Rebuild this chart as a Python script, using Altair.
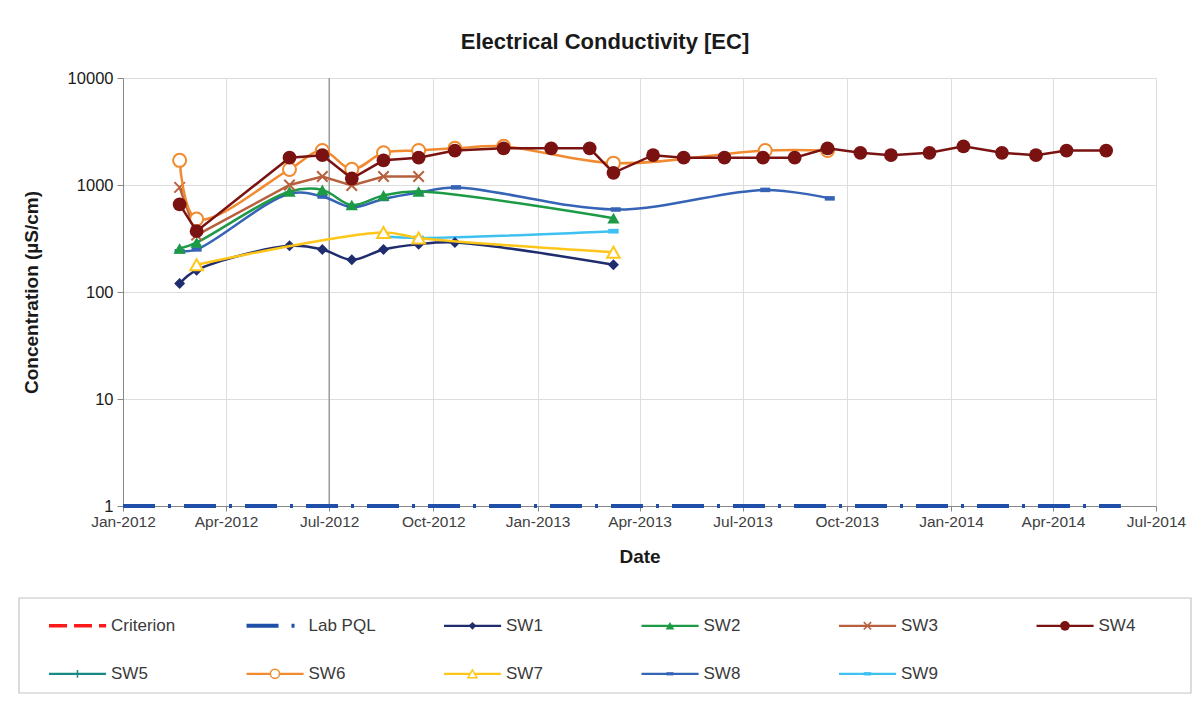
import altair as alt
import pandas as pd

# ---------------- data ----------------
SW1_DATES = ["2012-02-20", "2012-03-06", "2012-05-27", "2012-06-25", "2012-07-21",
             "2012-08-18", "2012-09-18", "2012-10-20", "2013-03-09"]
SW1_VALUES = [120, 160, 270, 250, 200, 250, 280, 290, 180]

SW2_DATES = ["2012-02-20", "2012-03-06", "2012-05-27", "2012-06-25", "2012-07-21",
             "2012-08-18", "2012-09-18", "2013-03-09"]
SW2_VALUES = [255, 290, 870, 900, 650, 800, 870, 490]

SW3_DATES = ["2012-02-20", "2012-03-06", "2012-05-27", "2012-06-25", "2012-07-21",
             "2012-08-18", "2012-09-18"]
SW3_VALUES = [950, 340, 1000, 1200, 990, 1200, 1200]

SW4_DATES = ["2012-02-20", "2012-03-06", "2012-05-27", "2012-06-25", "2012-07-21",
             "2012-08-18", "2012-09-18", "2012-10-20", "2012-12-02", "2013-01-13",
             "2013-02-16", "2013-03-09", "2013-04-13", "2013-05-10", "2013-06-15",
             "2013-07-19", "2013-08-16", "2013-09-14", "2013-10-13", "2013-11-09",
             "2013-12-13", "2014-01-12", "2014-02-15", "2014-03-17", "2014-04-13",
             "2014-05-18"]
SW4_VALUES = [660, 370, 1800, 1900, 1150, 1700, 1800, 2100, 2200, 2200,
              2200, 1300, 1900, 1800, 1800, 1800, 1800, 2200, 2000, 1900,
              2000, 2300, 2000, 1900, 2100, 2100]

SW5_DATES = []
SW5_VALUES = []

SW6_DATES = ["2012-02-20", "2012-03-06", "2012-05-27", "2012-06-25", "2012-07-21",
             "2012-08-18", "2012-09-18", "2012-10-20", "2012-12-02", "2013-03-09",
             "2013-07-21", "2013-09-14"]
SW6_VALUES = [1700, 480, 1400, 2100, 1400, 2000, 2100, 2200, 2300, 1600, 2100, 2100]

SW7_DATES = ["2012-03-06", "2012-08-18", "2012-09-18", "2013-03-09"]
SW7_VALUES = [180, 360, 320, 235]

SW8_DATES = ["2012-02-20", "2012-03-06", "2012-05-27", "2012-06-25", "2012-07-21",
             "2012-08-18", "2012-09-18", "2012-10-21", "2013-03-11", "2013-07-21",
             "2013-09-16"]
SW8_VALUES = [240, 250, 830, 780, 620, 740, 850, 950, 590, 900, 750]

SW9_DATES = ["2012-08-18", "2012-09-18", "2013-03-09"]
SW9_VALUES = [330, 320, 370]

PQL_DATES = ["2012-01-01", "2014-05-31"]
PQL_VALUES = [1, 1]

JUL_LINE_DATES = ["2012-07-01"]

Y_TICKS = [1, 10, 100, 1000, 10000]
LEGEND_NAMES = ["Criterion", "Lab PQL", "SW1", "SW2", "SW3", "SW4",
                "SW5", "SW6", "SW7", "SW8", "SW9"]

# ---------------- styles ----------------
X_PATH = "M-1,-1L1,1M-1,1L1,-1"
PLUS_PATH = "M0,-1V1M-0.6,0H0.6"
DASH_PATH = "M-1,-0.45H1V0.45H-1Z"

STYLE = {
    "Criterion": dict(color="#ff1a1a", dash=[18, 7], width=3.5, shape=None),
    "Lab PQL": dict(color="#1f4fa8", dash=[32, 13, 3, 13], width=4, shape=None),
    "SW1": dict(color="#1f2d6e", shape="diamond", size=120, filled=True, interp="catmull-rom"),
    "SW2": dict(color="#1c9a45", shape="triangle-up", size=150, filled=True, interp="catmull-rom"),
    "SW3": dict(color="#b8603e", shape=X_PATH, size=110, filled=False, interp="linear"),
    "SW4": dict(color="#7a1212", shape="circle", size=190, filled=True, interp="linear"),
    "SW5": dict(color="#178a84", shape=PLUS_PATH, size=120, filled=False, interp="linear"),
    "SW6": dict(color="#f28a30", shape="circle", size=170, filled="open", interp="catmull-rom"),
    "SW7": dict(color="#ffc61a", shape="triangle-up", size=160, filled="open", interp="catmull-rom"),
    "SW8": dict(color="#3563b5", shape=DASH_PATH, size=100, filled=True, interp="catmull-rom"),
    "SW9": dict(color="#3ec1f0", shape=DASH_PATH, size=110, filled=True, interp="catmull-rom"),
}

SERIES = {
    "SW1": (SW1_DATES, SW1_VALUES), "SW2": (SW2_DATES, SW2_VALUES),
    "SW3": (SW3_DATES, SW3_VALUES), "SW4": (SW4_DATES, SW4_VALUES),
    "SW5": (SW5_DATES, SW5_VALUES), "SW6": (SW6_DATES, SW6_VALUES),
    "SW7": (SW7_DATES, SW7_VALUES), "SW8": (SW8_DATES, SW8_VALUES),
    "SW9": (SW9_DATES, SW9_VALUES),
}

FONT = "Liberation Sans"
PLOT_W, PLOT_H = 1033, 428

x_ticks = []
for yr in (2012, 2013, 2014):
    for mo in (1, 4, 7, 10):
        if yr == 2014 and mo > 7:
            continue
        x_ticks.append(alt.DateTime(year=yr, month=mo, date=1))

X_ENC = alt.X(
    "date:T",
    scale=alt.Scale(domain=[alt.DateTime(year=2012, month=1, date=1),
                            alt.DateTime(year=2014, month=7, date=1)]),
    axis=alt.Axis(values=x_ticks, format="%b-%Y", title="Date",
                  labelFontSize=15.5, labelColor="#404040", labelPadding=3,
                  titleFontSize=19, titleFontWeight="bold", titleColor="#1a1a1a",
                  titlePadding=18, tickSize=5, labelFlush=False),
)
Y_ENC = alt.Y(
    "value:Q",
    scale=alt.Scale(type="log", domain=[1, 10000]),
    axis=alt.Axis(values=Y_TICKS, format="d", title="Concentration (µS/cm)",
                  labelFontSize=16.5, labelColor="#1a1a1a", labelPadding=4,
                  titleFontSize=19, titleFontWeight="bold", titleColor="#1a1a1a",
                  titlePadding=26, tickSize=6),
)


def frame(dates, values, name):
    return pd.DataFrame({"date": pd.to_datetime(dates), "value": values, "series": name})


layers = []

# darker vertical line at Jul-2012
jul = pd.DataFrame({"date": pd.to_datetime(JUL_LINE_DATES)})
layers.append(alt.Chart(jul).mark_rule(color="#8a8a8a", strokeWidth=1.2).encode(
    x=alt.X("date:T")))

# Lab PQL
pql = frame(PQL_DATES, PQL_VALUES, "Lab PQL")
s = STYLE["Lab PQL"]
layers.append(alt.Chart(pql).mark_line(color=s["color"], strokeWidth=s["width"],
                                       strokeDash=s["dash"]).encode(x=X_ENC, y=Y_ENC))

for name in ["SW8", "SW9", "SW1", "SW7", "SW2", "SW3", "SW6", "SW4", "SW5"]:
    dates, vals = SERIES[name]
    if not dates:
        continue
    st = STYLE[name]
    df = frame(dates, vals, name)
    base = alt.Chart(df)
    layers.append(base.mark_line(color=st["color"], strokeWidth=2.5,
                                 interpolate=st["interp"]).encode(x=X_ENC, y=Y_ENC))
    if st["filled"] == "open":
        pm = base.mark_point(shape=st["shape"], size=st["size"], filled=True,
                             fill="white", stroke=st["color"], strokeWidth=2, opacity=1)
    elif st["filled"]:
        pm = base.mark_point(shape=st["shape"], size=st["size"], filled=True,
                             color=st["color"], opacity=1)
    else:
        pm = base.mark_point(shape=st["shape"], size=st["size"], filled=False,
                             color=st["color"], strokeWidth=2, opacity=1)
    layers.append(pm.encode(x=X_ENC, y=Y_ENC))

plot = alt.layer(*layers).properties(width=PLOT_W, height=PLOT_H)

# ---------------- custom legend (boxed, 6 columns x 2 rows) ----------------
COL_PX = 197.5          # column pitch in pixels
BOX_LEFT_PX = 104       # legend box starts this far left of the plot area
BOX_COLS = 5.934        # legend box width in column units
LEG_H = 95

leg_rows = []
for i, name in enumerate(LEGEND_NAMES):
    leg_rows.append({"name": name, "col": i % 6, "row": i // 6})
leg = pd.DataFrame(leg_rows)

d0 = BOX_LEFT_PX / COL_PX
LX = alt.Scale(domain=[d0, d0 + PLOT_W / COL_PX])
LY = alt.Scale(domain=[-0.58, 1.40], reverse=True)

leg_layers = []
box = pd.DataFrame({"x0": [0.0], "x1": [BOX_COLS], "y0": [-0.58], "y1": [1.40]})
leg_layers.append(alt.Chart(box).mark_rect(filled=False, stroke="#c4c4c4",
                                            strokeWidth=1.2).encode(
    x=alt.X("x0:Q", scale=LX, axis=None), x2="x1:Q",
    y=alt.Y("y0:Q", scale=LY, axis=None), y2="y1:Q"))

for _, r in leg.iterrows():
    name = r["name"]
    st = STYLE[name]
    one = leg[leg["name"] == name]
    b = alt.Chart(one).transform_calculate(
        xs="datum.col + 0.152", xe="datum.col + 0.441", xm="datum.col + 0.296",
        xt="datum.col + 0.466")
    rule_kw = dict(color=st["color"], strokeWidth=st.get("width", 2.2))
    if st.get("dash"):
        rule_kw["strokeDash"] = st["dash"]
    leg_layers.append(b.mark_rule(**rule_kw).encode(
        x=alt.X("xs:Q", scale=LX, axis=None), x2="xe:Q",
        y=alt.Y("row:Q", scale=LY, axis=None)))
    if st["shape"] is not None:
        sz = st["size"] * 0.5
        if st["filled"] == "open":
            pm = b.mark_point(shape=st["shape"], size=sz, filled=True, fill="white",
                              stroke=st["color"], strokeWidth=1.5, opacity=1)
        elif st["filled"]:
            pm = b.mark_point(shape=st["shape"], size=sz, filled=True,
                              color=st["color"], opacity=1)
        else:
            pm = b.mark_point(shape=st["shape"], size=sz, filled=False,
                              color=st["color"], strokeWidth=1.5, opacity=1)
        leg_layers.append(pm.encode(
            x=alt.X("xm:Q", scale=LX, axis=None),
            y=alt.Y("row:Q", scale=LY, axis=None)))
    leg_layers.append(b.mark_text(align="left", baseline="middle", fontSize=17,
                                  color="#3a3a3a", font=FONT).encode(
        x=alt.X("xt:Q", scale=LX, axis=None),
        y=alt.Y("row:Q", scale=LY, axis=None),
        text="name:N"))

legend = alt.layer(*leg_layers).properties(
    width=PLOT_W, height=LEG_H, view=alt.ViewBackground(strokeWidth=0))

chart = alt.vconcat(plot, legend, spacing=30).properties(
    title=alt.TitleParams("Electrical Conductivity [EC]", fontSize=22, fontWeight="bold",
                          anchor="middle", color="#1a1a1a", offset=16, font=FONT),
    padding={"left": 10, "top": 22, "right": 0, "bottom": 0},
).configure_view(
    stroke="#c4c4c4", strokeWidth=1.2
).configure_axis(
    gridColor="#d6d6d6", gridWidth=1.2, domainColor="#a0a0a0", tickColor="#a0a0a0",
    labelFont=FONT, titleFont=FONT
).configure(font=FONT, background="white")

chart.save("out.html", embed_options={"renderer": "svg", "actions": False})
